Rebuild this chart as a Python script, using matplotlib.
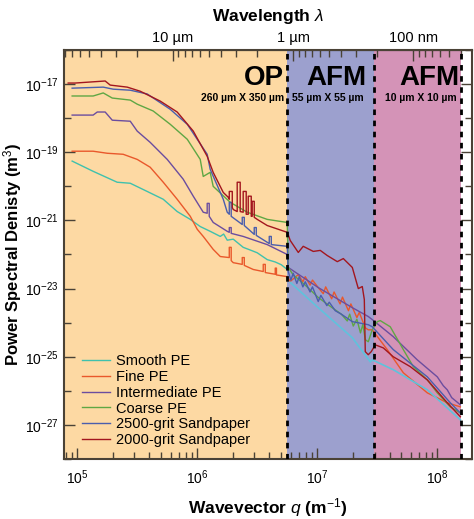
import numpy as np
import matplotlib.pyplot as plt
from matplotlib.ticker import FixedLocator, NullFormatter, FuncFormatter

plt.rcParams['font.family'] = ['Liberation Sans', 'DejaVu Sans']
plt.rcParams['mathtext.fontset'] = 'custom'
plt.rcParams['mathtext.rm'] = 'Liberation Sans'
plt.rcParams['mathtext.it'] = 'Liberation Sans:italic'
plt.rcParams['mathtext.bf'] = 'Liberation Sans:bold'

# values are log10(q / m^-1) and log10(PSD / m^3)
smooth_op_q = [4.958, 5.133, 5.333, 5.442, 5.583, 5.717, 5.833, 5.942, 6.025, 6.108,
               6.192, 6.22, 6.25, 6.3, 6.383, 6.45, 6.5, 6.583, 6.65, 6.7, 6.75]
smooth_op_p = [-19.26, -19.56, -19.88, -19.91, -20.15, -20.38, -20.74, -20.97, -21.18, -21.32,
               -21.47, -21.4, -21.58, -21.55, -21.79, -21.88, -21.95, -22.15, -22.22, -22.3, -22.44]
smooth_afm_q = [6.775, 7.008, 7.292, 7.442, 7.458, 7.633, 7.917, 8.192]
smooth_afm_p = [-22.82, -23.56, -24.44, -25.15, -25.09, -25.38, -25.97, -26.85]

fine_q = [4.958, 5.133, 5.25, 5.383, 5.5, 5.608, 5.717, 5.833, 5.942, 6.0, 6.05, 6.083,
          6.133, 6.192, 6.267, 6.267, 6.283, 6.283, 6.3, 6.375, 6.375, 6.392, 6.392,
          6.467, 6.55, 6.55, 6.567, 6.567, 6.65, 6.65, 6.66, 6.66, 6.75,
          6.775, 6.842, 6.88, 6.9, 6.94, 6.96, 7.008, 7.05, 7.07, 7.12, 7.14, 7.19, 7.21,
          7.26, 7.28, 7.33, 7.35, 7.4, 7.425,
          7.458, 7.583, 7.717, 7.917, 8.083, 8.192]
fine_p = [-18.97, -18.97, -19.03, -19.06, -19.21, -19.44, -19.88, -20.38, -20.88, -21.26, -21.47, -21.62,
          -21.85, -22.06, -22.09, -21.79, -21.79, -22.18, -22.24, -22.29, -22.09, -22.09, -22.32,
          -22.44, -22.5, -22.29, -22.29, -22.53, -22.58, -22.4, -22.4, -22.6, -22.65,
          -22.79, -22.59, -22.8, -22.65, -22.9, -22.75, -22.97, -23.15, -22.95, -23.3, -23.1, -23.45, -23.25,
          -23.65, -23.45, -23.85, -23.7, -24.15, -24.21,
          -24.21, -24.79, -25.47, -26.06, -26.35, -26.47]

inter_q = [4.958, 5.133, 5.167, 5.233, 5.292, 5.442, 5.5, 5.608, 5.75, 5.883, 5.967, 6.05,
           6.083, 6.083, 6.1, 6.1, 6.133, 6.25, 6.267, 6.267, 6.283, 6.283, 6.383, 6.583, 6.75,
           6.758, 7.008, 7.292, 7.425,
           7.458, 7.633, 7.833, 8.0, 8.05, 8.083, 8.12, 8.192]
inter_p = [-17.91, -17.91, -17.82, -17.82, -18.06, -18.09, -18.38, -18.71, -19.21, -19.79, -20.29, -20.76,
           -20.79, -20.5, -20.5, -20.88, -21.06, -21.32, -21.35, -21.21, -21.21, -21.38, -21.47, -21.71, -22.0,
           -22.38, -22.97, -23.56, -23.82,
           -23.91, -24.41, -25.09, -25.59, -25.85, -25.97, -26.2, -26.41]

coarse_q = [4.958, 5.133, 5.217, 5.292, 5.442, 5.5, 5.633, 5.775, 5.917, 6.025, 6.05, 6.108,
            6.133, 6.275, 6.417, 6.583, 6.75,
            6.758, 6.8, 6.9, 7.008, 7.1, 7.2, 7.25, 7.27, 7.3, 7.33, 7.36, 7.38, 7.4, 7.425,
            7.458, 7.5, 7.525, 7.608, 7.717, 7.8, 7.917, 8.0, 8.108, 8.192]
coarse_p = [-17.35, -17.35, -17.26, -17.41, -17.47, -17.59, -17.79, -18.18, -18.62, -19.21, -19.71, -19.59,
            -20.0, -20.47, -20.76, -20.97, -21.06,
            -22.38, -22.6, -22.9, -23.26, -23.5, -23.75, -23.95, -23.75, -24.1, -23.9, -24.3, -24.05, -24.5, -24.56,
            -24.21, -23.97, -23.94, -24.12, -24.79, -25.29, -25.68, -26.06, -26.47, -26.65]

grit2500_q = [4.958, 5.217, 5.3, 5.442, 5.583, 5.775, 5.917, 6.083, 6.108, 6.217, 6.25,
              6.267, 6.267, 6.283, 6.283, 6.375, 6.375, 6.392, 6.392, 6.475, 6.475, 6.492, 6.492,
              6.6, 6.6, 6.617, 6.617, 6.75,
              6.758, 6.78, 6.8, 6.83, 6.85, 6.88, 6.9, 6.94, 6.96, 7.008, 7.03, 7.08, 7.1, 7.15,
              7.2, 7.292, 7.425,
              7.458, 7.633, 7.917, 8.108, 8.192]
grit2500_p = [-17.12, -17.09, -17.15, -17.18, -17.29, -17.74, -18.18, -19.06, -19.5, -20.38, -20.76,
              -20.82, -20.47, -20.47, -20.88, -21.12, -20.91, -20.91, -21.15, -21.41, -21.21, -21.21, -21.44,
              -21.68, -21.47, -21.47, -21.71, -21.76,
              -22.5, -22.75, -22.55, -22.85, -22.65, -22.95, -22.8, -23.1, -22.95, -23.38, -23.2, -23.5, -23.4, -23.65,
              -23.75, -23.97, -24.06,
              -24.12, -24.79, -25.59, -26.35, -26.65]

grit2000_q = [4.925, 4.983, 5.233, 5.275, 5.417, 5.525, 5.692, 5.833, 5.967, 6.083, 6.133, 6.217, 6.258,
              6.267, 6.267, 6.292, 6.292, 6.3, 6.333, 6.333, 6.358, 6.358, 6.383, 6.383, 6.408, 6.408,
              6.425, 6.425, 6.45, 6.45, 6.458, 6.458, 6.475, 6.475, 6.5, 6.583, 6.75,
              6.775, 6.842, 6.883, 6.967, 7.025, 7.083, 7.167, 7.217, 7.292, 7.325, 7.342, 7.375,
              7.392, 7.4, 7.425, 7.45,
              7.483, 7.55, 7.633, 7.775, 7.917, 8.083, 8.192]
grit2000_p = [-16.97, -16.97, -16.91, -17.03, -17.09, -17.21, -17.5, -17.82, -18.38, -19.12, -19.59, -20.18, -20.32,
              -20.38, -20.15, -20.15, -20.62, -20.68, -20.74, -19.88, -19.88, -20.74, -20.76, -20.15, -20.15, -20.82,
              -20.82, -20.29, -20.29, -20.88, -20.88, -20.44, -20.44, -20.91, -20.97, -21.15, -21.35,
              -21.59, -21.94, -21.76, -21.91, -21.88, -22.03, -22.21, -22.12, -22.38, -22.79, -23.0, -22.94,
              -23.32, -24.85, -24.94, -24.85,
              -24.65, -24.74, -25.0, -25.29, -25.68, -26.35, -26.76]

series = [
    ("Smooth PE", "#3FC1AD", smooth_op_q, smooth_op_p),
    ("Fine PE", "#E9582B", fine_q, fine_p),
    ("Intermediate PE", "#6B4D9F", inter_q, inter_p),
    ("Coarse PE", "#5FA744", coarse_q, coarse_p),
    ("2500-grit Sandpaper", "#4A5EAD", grit2500_q, grit2500_p),
    ("2000-grit Sandpaper", "#A3161E", grit2000_q, grit2000_p),
]

# region borders (q, m^-1)
q_op_end = 10 ** 6.75
q_afm1_end = 10 ** 7.47
q_afm2_end = 10 ** 8.2

fig = plt.figure(figsize=(4.74, 5.19), dpi=100)
ax = fig.add_axes([0.135, 0.1156, 0.861, 0.7881])

ax.set_xscale("log")
ax.set_yscale("log")
ax.set_xlim(10 ** 4.89, 10 ** 8.29)
ax.set_ylim(1e-28, 1e-16)

ax.axvspan(1e4, q_op_end, color="#FDD9A3", zorder=0, lw=0)
ax.axvspan(q_op_end, q_afm1_end, color="#9CA0CE", zorder=0, lw=0)
ax.axvspan(q_afm1_end, q_afm2_end, color="#D493B7", zorder=0, lw=0)
for qb in (q_op_end, q_afm1_end, q_afm2_end):
    ax.axvline(qb, color="black", lw=2, ls=(0, (2, 2)), zorder=3)

for label, color, qe, pe in series:
    ax.plot(10 ** np.array(qe), 10 ** np.array(pe), color=color, lw=1.0, label=label, zorder=2)
ax.plot(10 ** np.array(smooth_afm_q), 10 ** np.array(smooth_afm_p), color="#5EC3DC", lw=1.2, zorder=2)

big = dict(fontsize=20, fontweight="bold", va="center")
small = dict(fontsize=7.5, fontweight="bold", va="center")
ax.text(10 ** 6.72, 10 ** -16.83, "OP", ha="right", **big)
ax.text(10 ** 6.72, 10 ** -17.4, "260 µm X 350 µm", ha="right", **small)
ax.text(10 ** 7.16, 10 ** -16.83, "AFM", ha="center", **big)
ax.text(10 ** 7.09, 10 ** -17.4, "55 µm X 55 µm", ha="center", **small)
ax.text(10 ** 7.93, 10 ** -16.83, "AFM", ha="center", **big)
ax.text(10 ** 7.86, 10 ** -17.4, "10 µm X 10 µm", ha="center", **small)

ax.yaxis.set_major_locator(FixedLocator([10.0 ** e for e in range(-27, -16, 2)]))
ax.yaxis.set_minor_locator(FixedLocator([10.0 ** e for e in range(-28, -15, 2)]))
ax.yaxis.set_minor_formatter(NullFormatter())

spine_col = "#4a4236"
for s in ax.spines.values():
    s.set_color(spine_col)
    s.set_linewidth(1.5)
ax.tick_params(which="both", direction="in", top=False, right=True, color=spine_col, labelsize=10)
ax.tick_params(which="major", length=8, width=1)
ax.tick_params(which="minor", length=5, width=1)
ax.tick_params(axis="x", pad=7)
ax.tick_params(axis="y", pad=4)

ax.set_xlabel("Wavevector $q$ (m$^{-1}$)", fontsize=12.5, fontweight="bold", labelpad=6)
ax.set_ylabel("Power Spectral Denisty (m$^3$)", fontsize=12, fontweight="bold")
ax.yaxis.set_label_coords(-0.098, 0.5)

sec = ax.secondary_xaxis("top", functions=(lambda q: 2 * np.pi / q, lambda l: 2 * np.pi / l))
names = {-5: "10 µm", -6: "1 µm", -7: "100 nm"}
sec.xaxis.set_major_formatter(FuncFormatter(lambda v, p: names.get(int(round(np.log10(v))), "")))
sec.xaxis.set_minor_formatter(NullFormatter())
sec.tick_params(which="both", direction="in", color=spine_col, labelsize=10.5)
sec.tick_params(which="major", length=8, width=1)
sec.tick_params(which="minor", length=5, width=1)
sec.set_xlabel("Wavelength $\\lambda$", fontsize=12.5, fontweight="bold", labelpad=7)

leg = ax.legend(loc="lower left", bbox_to_anchor=(0.03, 0.015), frameon=False, fontsize=10.5,
                handlelength=1.9, handletextpad=0.4, labelspacing=0.12, borderaxespad=0)

fig.savefig("out.png", dpi=100)
